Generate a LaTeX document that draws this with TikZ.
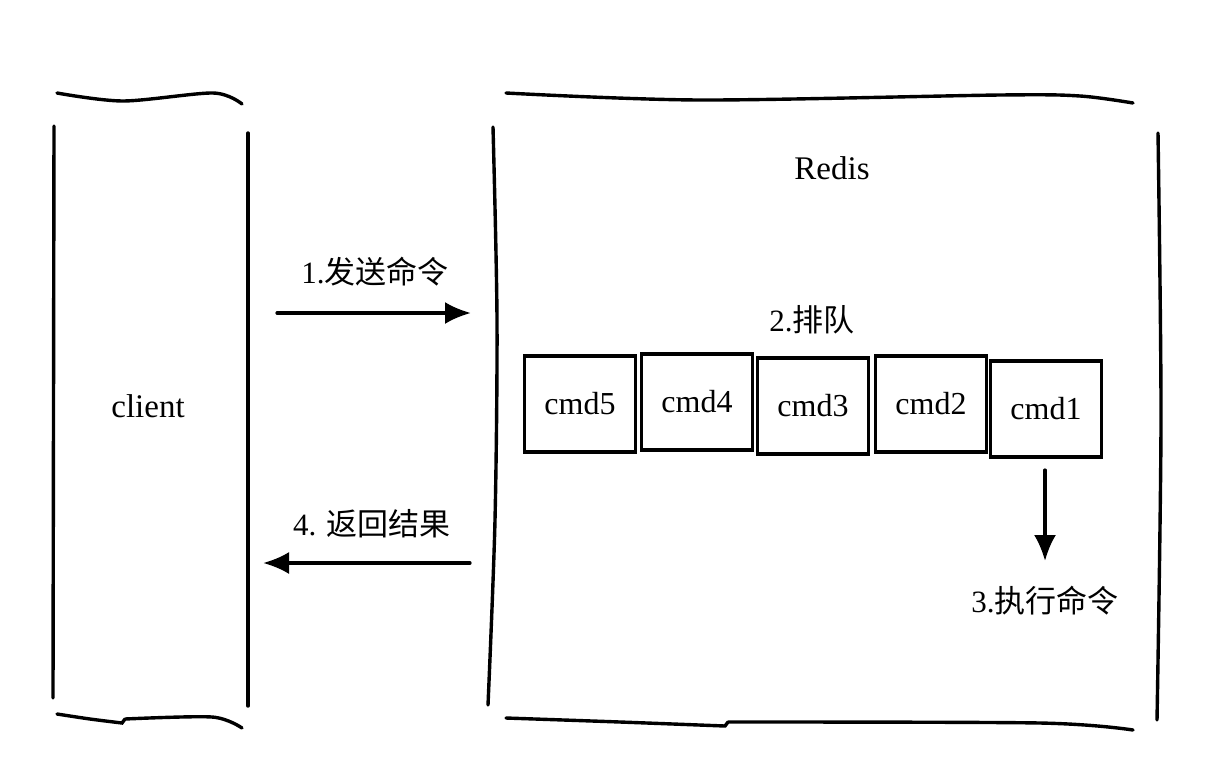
\documentclass[tikz,border=0pt]{standalone}
\usepackage{fontspec}
\setmainfont{Liberation Serif}
\newfontfamily\cjk{Noto Sans CJK SC}
\usetikzlibrary{arrows.meta}
\begin{document}
\begin{tikzpicture}[x=1pt,y=-1pt,line width=3.4pt,line cap=round,
  txt/.style={font=\fontsize{33}{39}\selectfont,inner sep=0pt},
  cjktxt/.style={font=\fontsize{31}{37}\selectfont\cjk,inner sep=0pt},
  cmdbox/.style={draw,line width=3.4pt,minimum width=111pt,minimum height=96pt,inner sep=0pt,font=\fontsize{32}{38}\selectfont},
  arr/.style={line width=3.2pt,-{Latex[length=26pt,width=22pt]}}]
\useasboundingbox (0,0) rectangle (1206,772);
% client container
\draw plot[smooth] coordinates {(57,93) (123,101) (213,93) (242,104)};
\draw (54,126) -- (53,698);
\draw (248,133) -- (248,706);
\draw plot[smooth] coordinates {(57,714) (90,719) (122,723)} -- (125,719)
      plot[smooth] coordinates {(125,719) (212,717) (242,728)};
\node[txt] (client) at (148,406) {client};
% Redis container
\draw plot[smooth] coordinates {(506,93) (700,100) (1000,95) (1080,96) (1133,103)};
\draw plot[smooth] coordinates {(493,127) (497,320) (495,520) (488,705)};
\draw plot[smooth] coordinates {(1158,133) (1161,420) (1157,720)};
\draw plot[smooth] coordinates {(506,718) (620,722) (725,726)} -- (728,722)
      plot[smooth] coordinates {(728,722) (1040,723) (1133,730)};
\node[txt] (redis) at (832,168) {Redis};
% queue
\node[cmdbox] (c5) at (580,404) {cmd5};
\node[cmdbox] (c4) at (697,402) {cmd4};
\node[cmdbox] (c3) at (813,406) {cmd3};
\node[cmdbox] (c2) at (931,404) {cmd2};
\node[cmdbox] (c1) at (1046,409) {cmd1};
\node[cjktxt] (queue) at (812,320) {\fontspec{Liberation Serif}2.\cjk 排队};
% arrows
\coordinate (s1) at (277,313);
\coordinate (e1) at (471,313);
\draw[arr] (s1) -- (e1);
\node[cjktxt] (l1) at (375,272) {\fontspec{Liberation Serif}1.\cjk 发送命令};
\coordinate (s3) at (1045,470);
\coordinate (e3) at (1045,561);
\draw[arr] (s3) -- (e3);
\node[cjktxt] (l3) at (1045,601) {\fontspec{Liberation Serif}3.\cjk 执行命令};
\coordinate (s4) at (470,563);
\coordinate (e4) at (263,563);
\draw[arr] (s4) -- (e4);
\node[cjktxt] (l4) at (372,524) {\fontspec{Liberation Serif}4. \cjk 返回结果};
\end{tikzpicture}
\end{document}
